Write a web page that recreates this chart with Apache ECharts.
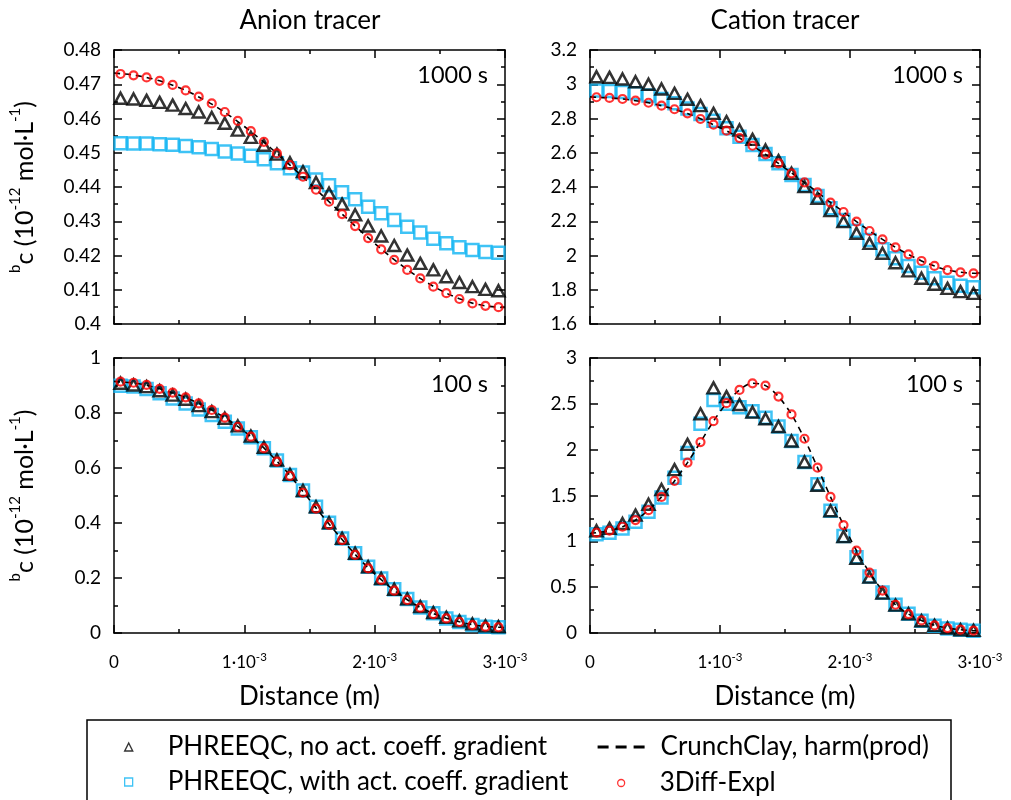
<!DOCTYPE html>
<html>
<head>
<meta charset="utf-8">
<title>Anion and cation tracer profiles</title>
<script src="https://cdn.jsdelivr.net/npm/echarts@6/dist/echarts.min.js"></script>
<style>
  html, body { margin: 0; padding: 0; background: #fff; }
  #chart { width: 1011px; height: 800px; }
</style>
</head>
<body>
<div id="chart"></div>
<script>
// Cell-centre distances (m) of the PHREEQC / 3Diff-Expl profiles
const distance = [0.00005, 0.00015, 0.00025, 0.00035, 0.00045, 0.00055, 0.00065, 0.00075, 0.00085, 0.00095,
                  0.00105, 0.00115, 0.00125, 0.00135, 0.00145, 0.00155, 0.00165, 0.00175, 0.00185, 0.00195,
                  0.00205, 0.00215, 0.00225, 0.00235, 0.00245, 0.00255, 0.00265, 0.00275, 0.00285, 0.00295];
// CrunchClay profile runs over the whole domain, boundaries included
const crunchDistance = [0].concat(distance, [0.003]);

// Anion tracer, 1000 s
const anion1000NoGrad = [0.4659, 0.4657, 0.4653, 0.4647, 0.4639, 0.4629, 0.4619, 0.4603, 0.4586, 0.4566,
                         0.4545, 0.4522, 0.4496, 0.4471, 0.4445, 0.4413, 0.4382, 0.4350, 0.4319, 0.4286,
                         0.4257, 0.4229, 0.4201, 0.4177, 0.4158, 0.4138, 0.4121, 0.4109, 0.4101, 0.4097];
const anion1000Grad = [0.4528, 0.4527, 0.4527, 0.4525, 0.4523, 0.4520, 0.4516, 0.4511, 0.4504, 0.4498,
                       0.4491, 0.4481, 0.4469, 0.4455, 0.4442, 0.4422, 0.4405, 0.4385, 0.4364, 0.4342,
                       0.4323, 0.4304, 0.4284, 0.4267, 0.4249, 0.4236, 0.4224, 0.4216, 0.4210, 0.4208];
const anion1000Diff = [0.4730, 0.4726, 0.4720, 0.4710, 0.4698, 0.4682, 0.4664, 0.4644, 0.4619, 0.4593,
                       0.4563, 0.4532, 0.4498, 0.4464, 0.4430, 0.4392, 0.4357, 0.4321, 0.4286, 0.4251,
                       0.4218, 0.4187, 0.4158, 0.4133, 0.4109, 0.4090, 0.4073, 0.4060, 0.4053, 0.4049];
const anion1000Crunch = [0.4733, 0.4731, 0.4727, 0.4720, 0.4710, 0.4697, 0.4682, 0.4663, 0.4642, 0.4618,
                         0.4591, 0.4562, 0.4531, 0.4498, 0.4464, 0.4429, 0.4393, 0.4357, 0.4321, 0.4286,
                         0.4252, 0.4219, 0.4188, 0.4159, 0.4133, 0.4110, 0.4090, 0.4074, 0.4061, 0.4053,
                         0.4049, 0.4048];

// Cation tracer, 1000 s
const cation1000NoGrad = [3.044, 3.040, 3.031, 3.015, 3.000, 2.972, 2.947, 2.912, 2.875, 2.830,
                          2.782, 2.733, 2.678, 2.616, 2.554, 2.480, 2.402, 2.334, 2.262, 2.198,
                          2.130, 2.071, 2.013, 1.958, 1.910, 1.867, 1.832, 1.808, 1.789, 1.779];
const cation1000Grad = [2.963, 2.961, 2.955, 2.947, 2.935, 2.914, 2.889, 2.859, 2.826, 2.787,
                        2.743, 2.694, 2.645, 2.593, 2.538, 2.470, 2.412, 2.347, 2.276, 2.207,
                        2.145, 2.091, 2.036, 1.984, 1.939, 1.900, 1.867, 1.841, 1.824, 1.814];
const cation1000Diff = [2.924, 2.920, 2.914, 2.904, 2.892, 2.875, 2.854, 2.830, 2.797, 2.764,
                        2.729, 2.686, 2.641, 2.591, 2.538, 2.480, 2.427, 2.369, 2.309, 2.254,
                        2.198, 2.143, 2.094, 2.048, 2.007, 1.968, 1.939, 1.915, 1.902, 1.896];
const cation1000Crunch = [2.926, 2.924, 2.920, 2.914, 2.904, 2.892, 2.875, 2.854, 2.829, 2.798,
                          2.764, 2.728, 2.686, 2.641, 2.591, 2.538, 2.482, 2.426, 2.369, 2.310,
                          2.254, 2.198, 2.144, 2.094, 2.048, 2.006, 1.968, 1.938, 1.915, 1.902,
                          1.896, 1.895];

// Anion tracer, 100 s
const anion100NoGrad = [0.908, 0.902, 0.896, 0.881, 0.865, 0.850, 0.827, 0.805, 0.781, 0.753,
                        0.716, 0.675, 0.629, 0.577, 0.518, 0.459, 0.401, 0.344, 0.290, 0.241,
                        0.198, 0.159, 0.124, 0.096, 0.074, 0.057, 0.044, 0.033, 0.026, 0.023];
const anion100Grad = [0.899, 0.896, 0.887, 0.872, 0.853, 0.835, 0.813, 0.793, 0.768, 0.744,
                      0.712, 0.672, 0.627, 0.575, 0.518, 0.459, 0.401, 0.344, 0.290, 0.241,
                      0.198, 0.159, 0.124, 0.093, 0.072, 0.053, 0.040, 0.029, 0.023, 0.021];
const anion100Diff = [0.914, 0.910, 0.902, 0.888, 0.874, 0.857, 0.835, 0.811, 0.783, 0.750,
                      0.714, 0.672, 0.623, 0.571, 0.510, 0.452, 0.393, 0.338, 0.284, 0.235,
                      0.193, 0.154, 0.120, 0.092, 0.069, 0.053, 0.040, 0.029, 0.023, 0.021];
const anion100Crunch = [0.915, 0.913, 0.909, 0.901, 0.888, 0.873, 0.856, 0.835, 0.811, 0.783,
                        0.751, 0.714, 0.673, 0.625, 0.573, 0.514, 0.455, 0.396, 0.340, 0.286,
                        0.237, 0.194, 0.155, 0.121, 0.093, 0.071, 0.054, 0.041, 0.030, 0.024,
                        0.021, 0.020];

// Cation tracer, 100 s
const cation100NoGrad = [1.116, 1.141, 1.195, 1.286, 1.405, 1.565, 1.782, 2.058, 2.391, 2.674,
                         2.579, 2.492, 2.409, 2.337, 2.253, 2.094, 1.866, 1.612, 1.333, 1.051,
                         0.815, 0.609, 0.435, 0.304, 0.210, 0.134, 0.083, 0.054, 0.036, 0.029];
const cation100Grad = [1.076, 1.094, 1.141, 1.213, 1.322, 1.478, 1.695, 1.963, 2.282, 2.543,
                       2.500, 2.463, 2.420, 2.348, 2.253, 2.094, 1.866, 1.623, 1.333, 1.058,
                       0.826, 0.616, 0.442, 0.308, 0.210, 0.134, 0.079, 0.050, 0.036, 0.025];
const cation100Diff = [1.094, 1.116, 1.159, 1.232, 1.340, 1.485, 1.659, 1.859, 2.083, 2.311,
                       2.507, 2.652, 2.724, 2.699, 2.579, 2.384, 2.119, 1.804, 1.485, 1.177,
                       0.898, 0.659, 0.463, 0.308, 0.206, 0.137, 0.083, 0.054, 0.036, 0.025];
const cation100Crunch = [1.085, 1.094, 1.116, 1.159, 1.232, 1.340, 1.485, 1.659, 1.859, 2.083,
                         2.311, 2.507, 2.652, 2.724, 2.699, 2.579, 2.384, 2.119, 1.804, 1.485,
                         1.177, 0.898, 0.659, 0.463, 0.308, 0.206, 0.137, 0.083, 0.054, 0.036,
                         0.025, 0.022];

// Axis ranges and tick spacing per panel
const yRanges = [
  { min: 0.40, max: 0.48, interval: 0.01 },
  { min: 1.6, max: 3.2, interval: 0.2 },
  { min: 0, max: 1, interval: 0.2 },
  { min: 0, max: 3, interval: 0.5 }
];
const columnTitles = ['Anion tracer', 'Cation tracer'];
const timeLabels = ['1000 s', '1000 s', '100 s', '100 s'];
const seriesNames = [
  'PHREEQC, no act. coeff. gradient',
  'PHREEQC, with act. coeff. gradient',
  'CrunchClay, harm(prod)',
  '3Diff-Expl'
];
const panelData = [
  [anion1000NoGrad, anion1000Grad, anion1000Crunch, anion1000Diff],
  [cation1000NoGrad, cation1000Grad, cation1000Crunch, cation1000Diff],
  [anion100NoGrad, anion100Grad, anion100Crunch, anion100Diff],
  [cation100NoGrad, cation100Grad, cation100Crunch, cation100Diff]
];

const FONT = 'Lato';
const CYAN = '#0fb4f2';
const RED = '#ff0000';

const grids = [
  { left: 114, top: 50, width: 391, height: 274 },
  { left: 590, top: 50, width: 390, height: 274 },
  { left: 114, top: 358, width: 391, height: 275 },
  { left: 590, top: 358, width: 390, height: 275 }
];

const zip = (xs, ys) => xs.map((x, i) => [x, ys[i]]);

const tickCommon = {
  axisLine: { show: true, onZero: false, lineStyle: { color: '#000', width: 1.5 } },
  axisTick: { show: true, inside: true, length: 8, lineStyle: { color: '#000', width: 1.5 } },
  minorTick: { show: true, splitNumber: 2, length: 4, lineStyle: { color: '#000', width: 1.5 } },
  splitLine: { show: false },
  minorSplitLine: { show: false }
};

const xAxes = [];
const yAxes = [];
const series = [];

grids.forEach((g, p) => {
  const bottomRow = p >= 2;
  const leftCol = p % 2 === 0;
  // bottom (labelled) and top (mirror) x axes
  xAxes.push(Object.assign({}, tickCommon, {
    type: 'value', gridIndex: p, position: 'bottom', min: 0, max: 0.003, interval: 0.001,
    name: bottomRow ? 'Distance (m)' : '',
    nameLocation: 'middle', nameGap: 51,
    nameTextStyle: { fontFamily: FONT, fontSize: 26, color: '#000' },
    axisLabel: {
      show: bottomRow, margin: 18, color: '#000', fontFamily: FONT,
      formatter: v => {
        const k = Math.round(v * 1000);
        return k === 0 ? '{m|0}' : '{m|' + k + '·10}{e|-3}';
      },
      rich: {
        m: { fontFamily: FONT, fontSize: 17, lineHeight: 23, color: '#000' },
        e: { fontFamily: FONT, fontSize: 11.5, lineHeight: 11, verticalAlign: 'top', color: '#000' }
      }
    }
  }));
  xAxes.push(Object.assign({}, tickCommon, {
    type: 'value', gridIndex: p, position: 'top', min: 0, max: 0.003, interval: 0.001,
    axisLabel: { show: false }
  }));
  const r = yRanges[p];
  yAxes.push(Object.assign({}, tickCommon, {
    type: 'value', gridIndex: p, position: 'left', min: r.min, max: r.max, interval: r.interval,
    name: leftCol ? '{s|b}{t|c (10}{s|-12}{t| mol·L}{s|-1}{t|)}' : '',
    nameLocation: 'middle', nameGap: 72, nameRotate: 90,
    nameTextStyle: {
      color: '#000',
      rich: {
        t: { fontFamily: FONT, fontSize: 25, lineHeight: 34, color: '#000' },
        s: { fontFamily: FONT, fontSize: 15, lineHeight: 15, verticalAlign: 'top', color: '#000' }
      }
    },
    axisLabel: { show: true, margin: 13, color: '#000', fontFamily: FONT, fontSize: 19 }
  }));
  yAxes.push(Object.assign({}, tickCommon, {
    type: 'value', gridIndex: p, position: 'right', min: r.min, max: r.max, interval: r.interval,
    axisLabel: { show: false }
  }));

  const [noGrad, grad, crunch, diff] = panelData[p];
  const xi = 2 * p, yi = 2 * p;
  series.push({
    type: 'scatter', name: seriesNames[1], xAxisIndex: xi, yAxisIndex: yi, z: 2,
    data: zip(distance, grad), symbol: 'rect', symbolSize: 12,
    itemStyle: { color: 'rgba(0,0,0,0)', borderColor: CYAN, borderWidth: 2.5 }
  });
  series.push({
    type: 'scatter', name: seriesNames[0], xAxisIndex: xi, yAxisIndex: yi, z: 3,
    data: zip(distance, noGrad), symbol: 'triangle', symbolSize: [12, 11],
    itemStyle: { color: 'rgba(0,0,0,0)', borderColor: '#000', borderWidth: 2.5 }
  });
  series.push({
    type: 'line', name: seriesNames[2], xAxisIndex: xi, yAxisIndex: yi, z: 4,
    data: zip(crunchDistance, crunch), symbol: 'none', smooth: 0.3,
    lineStyle: { color: '#000', width: 1.6, type: [6, 5] }
  });
  series.push({
    type: 'scatter', name: seriesNames[3], xAxisIndex: xi, yAxisIndex: yi, z: 5,
    data: zip(distance, diff), symbol: 'circle', symbolSize: 8,
    itemStyle: { color: 'rgba(0,0,0,0)', borderColor: RED, borderWidth: 2.2 }
  });
});

const titles = [
  { text: columnTitles[0], left: 310, top: 8, textAlign: 'center', fontSize: 26 },
  { text: columnTitles[1], left: 785, top: 8, textAlign: 'center', fontSize: 26 },
  { text: timeLabels[0], right: 523, top: 63, fontSize: 23.5 },
  { text: timeLabels[1], right: 48, top: 63, fontSize: 23.5 },
  { text: timeLabels[2], right: 523, top: 372, fontSize: 23.5 },
  { text: timeLabels[3], right: 48, top: 372, fontSize: 23.5 }
].map(t => ({
  text: t.text, left: t.left, right: t.right, top: t.top, textAlign: t.textAlign, padding: 0,
  textStyle: { fontFamily: FONT, fontSize: t.fontSize, fontWeight: 'normal', color: '#000' }
}));

const legendText = { fontFamily: FONT, fontSize: 26, color: '#000', lineHeight: 30 };
const hiddenSymbol = { color: 'rgba(0,0,0,0)', borderColor: 'rgba(0,0,0,0)', borderWidth: 0 };
const legends = [
  {
    left: 124, top: 732, itemWidth: 8, itemHeight: 8,
    textStyle: Object.assign({ padding: [0, 0, 0, 30] }, legendText),
    data: [{ name: seriesNames[0], icon: 'triangle', itemStyle: { color: 'rgba(0,0,0,0)', borderColor: '#000', borderWidth: 1.4 } }]
  },
  {
    left: 124, top: 767, itemWidth: 8, itemHeight: 8,
    textStyle: Object.assign({ padding: [0, 0, 0, 30] }, legendText),
    data: [{ name: seriesNames[1], icon: 'rect', itemStyle: { color: 'rgba(0,0,0,0)', borderColor: CYAN, borderWidth: 1.3 } }]
  },
  {
    left: 596, top: 732, itemWidth: 49, itemHeight: 8,
    textStyle: Object.assign({ padding: [0, 0, 0, 9] }, legendText),
    data: [{ name: seriesNames[2], itemStyle: hiddenSymbol, lineStyle: { color: '#000', width: 3.2, type: [11, 7] } }]
  },
  {
    left: 617, top: 768, itemWidth: 7, itemHeight: 7,
    textStyle: Object.assign({ padding: [0, 0, 0, 30] }, legendText),
    data: [{ name: seriesNames[3], icon: 'circle', itemStyle: { color: 'rgba(0,0,0,0)', borderColor: RED, borderWidth: 1.3 } }]
  }
].map(l => Object.assign({ padding: 0, orient: 'horizontal', selectedMode: false }, l));

const chart = echarts.init(document.getElementById('chart'), null, { renderer: 'canvas' });
chart.setOption({
  backgroundColor: '#fff',
  animation: false,
  textStyle: { fontFamily: FONT },
  title: titles,
  legend: legends,
  grid: grids.map(g => Object.assign({ containLabel: false, show: false }, g)),
  xAxis: xAxes,
  yAxis: yAxes,
  series: series,
  graphic: [{
    type: 'rect', silent: true,
    shape: { x: 87, y: 720, width: 864, height: 100 },
    style: { fill: 'none', stroke: '#000', lineWidth: 1.5 }
  }]
});
</script>
</body>
</html>
